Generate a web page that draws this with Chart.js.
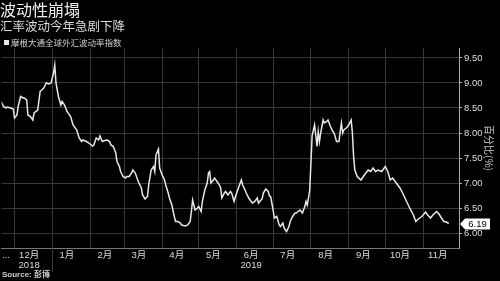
<!DOCTYPE html>
<html><head><meta charset="utf-8">
<script src="https://cdn.jsdelivr.net/npm/chart.js@4.4.1/dist/chart.umd.min.js"></script>
<style>html,body{margin:0;padding:0;background:#000;overflow:hidden}</style>
</head><body>
<canvas id="c" width="500" height="281"></canvas>
<script>
// ---- data ----
const chartTitle = '波动性崩塌';
const chartSubtitle = '汇率波动今年急剧下降';
const seriesName = '摩根大通全球外汇波动率指数';
const yAxisTitle = '百分比(%)';
const sourceText = 'Source: 彭博';
// days since 2018-11-19
const dayOffsets = [
  1,3,5,6,9,11,12,14,15,17,
  19,20,22,23,25,27,28,31,33,36,
  38,40,42,44,45,46,48,50,51,53,
  55,58,60,63,65,67,68,71,73,76,
  77,79,81,82,84,86,88,90,91,93,
  95,96,98,99,101,103,104,106,108,109,
  111,113,114,116,117,119,121,122,124,126,
  127,128,130,131,133,135,136,138,139,141,
  143,144,146,148,149,152,154,156,157,158,
  160,162,163,165,166,168,170,171,172,173,
  175,176,178,180,181,182,184,185,187,189,
  190,192,193,195,197,198,199,201,202,204,
  206,207,209,211,212,213,215,216,218,220,
  221,222,224,225,227,229,230,232,233,235,
  237,238,240,242,243,245,246,247,248,250,
  251,252,254,255,256,258,260,261,262,263,
  265,266,268,269,271,273,274,276,278,279,
  280,281,282,284,286,288,289,290,291,293,
  296,298,300,302,304,306,308,310,313,316,
  318,320,322,325,328,331,334,336,339,341,
  343,346,349,350,353,355,358,360,362,364,
  366,368
];
const volValues = [
  8.63,8.53,8.50,8.52,8.50,8.48,8.30,8.36,8.53,8.73,
  8.70,8.70,8.66,8.36,8.33,8.26,8.40,8.46,8.83,8.90,
  9.00,8.98,9.00,9.20,9.36,9.00,8.73,8.56,8.63,8.56,
  8.43,8.33,8.16,8.06,7.90,7.83,7.86,7.83,7.80,7.74,
  7.76,7.90,7.86,7.94,7.83,7.85,7.86,7.83,7.76,7.73,
  7.60,7.43,7.33,7.23,7.13,7.10,7.13,7.13,7.20,7.26,
  7.20,7.06,7.00,6.90,6.76,6.68,6.73,6.96,7.26,7.33,
  7.23,7.56,7.68,7.30,7.16,7.06,6.96,6.80,6.70,6.56,
  6.33,6.23,6.23,6.20,6.16,6.14,6.16,6.23,6.43,6.66,
  6.46,6.50,6.53,6.43,6.63,6.86,7.00,7.20,7.23,7.00,
  7.06,7.10,7.03,6.96,6.90,6.70,6.80,6.83,6.76,6.83,
  6.80,6.63,6.72,6.86,7.00,7.06,6.96,6.86,6.80,6.70,
  6.63,6.60,6.63,6.70,6.60,6.63,6.68,6.80,6.88,6.83,
  6.74,6.73,6.46,6.30,6.33,6.16,6.13,6.20,6.10,6.03,
  6.13,6.23,6.33,6.40,6.40,6.44,6.46,6.43,6.40,6.53,
  6.63,6.56,6.85,7.40,7.95,8.16,7.73,8.03,7.83,8.00,
  8.26,8.20,8.23,8.26,8.13,8.03,8.00,7.83,7.83,8.03,
  8.20,8.00,8.06,8.10,8.16,8.26,8.00,7.53,7.26,7.13,
  7.06,7.13,7.20,7.26,7.23,7.30,7.23,7.26,7.23,7.33,
  7.23,7.06,7.10,7.00,6.90,6.76,6.60,6.50,6.36,6.23,
  6.28,6.33,6.42,6.38,6.30,6.36,6.43,6.38,6.30,6.23,
  6.22,6.19
];
// month boundaries (days since 2018-11-19): Dec 1 ... Nov 1
const monthStartDays = [12,43,74,102,133,163,194,224,255,286,316,347];
const yearStartDay = 43;
const monthLabels = ['...', ['12月','2018'], '1月','2月','3月','4月','5月',['6月','2019'],'7月','8月','9月','10月','11月'];
const yTickValues = [6.0,6.5,7.0,7.5,8.0,8.5,9.0,9.5];

// ---- derived ----
const labelDays = [5].concat(monthStartDays.map(d => d + 12));
const points = dayOffsets.map((d, i) => ({x: d, y: volValues[i]}));
const X_MIN = 1.4, X_MAX = 376.4;

const extras = {
  id: 'extras',
  afterDraw(chart) {
    const {ctx, chartArea: a, scales} = chart;
    const x = scales.x, y = scales.y;
    ctx.save();
    // legend item
    ctx.fillStyle = '#e6e6e6';
    ctx.fillRect(4, 40, 5, 5);
    ctx.font = '8.5px "Noto Sans CJK SC"';
    ctx.textBaseline = 'middle';
    ctx.textAlign = 'left';
    ctx.fillStyle = '#cfcfcf';
    ctx.fillText(chart.data.datasets[0].label, 11, 42.5);
    // year separator tick
    const jx = Math.round(x.getPixelForValue(yearStartDay)) + 0.5;
    ctx.strokeStyle = '#3a3a3a';
    ctx.lineWidth = 1;
    ctx.beginPath(); ctx.moveTo(jx, a.bottom); ctx.lineTo(jx, 272); ctx.stroke();
    // source
    ctx.font = 'bold 8px "Liberation Sans", "Noto Sans CJK SC"';
    ctx.fillStyle = '#cfcfcf';
    ctx.textBaseline = 'middle';
    ctx.fillText(sourceText, 2, 275);
    // last value tag
    const last = volValues[volValues.length - 1];
    const ly = Math.round(y.getPixelForValue(last));
    const x0 = a.right + 1;
    ctx.fillStyle = '#ffffff';
    ctx.beginPath();
    ctx.moveTo(x0, ly);
    ctx.lineTo(x0 + 5, ly - 5.5);
    ctx.lineTo(x0 + 30, ly - 5.5);
    ctx.lineTo(x0 + 30, ly + 5.5);
    ctx.lineTo(x0 + 5, ly + 5.5);
    ctx.closePath();
    ctx.fill();
    ctx.fillStyle = '#000000';
    ctx.font = '9.5px "Liberation Sans"';
    ctx.textAlign = 'center';
    ctx.fillText(last.toFixed(2), x0 + 17.5, ly + 0.5);
    ctx.restore();
  }
};

new Chart(document.getElementById('c'), {
  type: 'line',
  data: {
    datasets: [{
      label: seriesName,
      data: points,
      borderColor: '#e8e8e8',
      borderWidth: 1.5,
      pointRadius: 0,
      tension: 0,
      fill: false
    }]
  },
  options: {
    responsive: false,
    animation: false,
    devicePixelRatio: 1,
    layout: {padding: {left: 0, right: 0, top: 0, bottom: 9}},
    plugins: {
      legend: {display: false},
      tooltip: {enabled: false},
      title: {
        display: true, text: chartTitle, align: 'start', color: '#eeeeee',
        font: {family: '"Noto Sans CJK SC"', size: 16, weight: 'normal', lineHeight: 1},
        padding: {top: 2, bottom: 0}
      },
      subtitle: {
        display: true, text: chartSubtitle, align: 'start', color: '#dddddd',
        font: {family: '"Noto Sans CJK SC"', size: 12.5, weight: 'normal', lineHeight: 1},
        padding: {top: 2, bottom: 15.5}
      }
    },
    scales: {
      x: {
        type: 'linear', position: 'bottom', min: X_MIN, max: X_MAX,
        afterBuildTicks: s => { s.ticks = monthStartDays.map(v => ({value: v})); },
        ticks: {display: false},
        grid: {color: '#383838', lineWidth: 1, drawTicks: false},
        border: {display: true, color: '#777777'}
      },
      xl: {
        type: 'linear', position: 'bottom', min: X_MIN, max: X_MAX,
        afterBuildTicks: s => { s.ticks = labelDays.map(v => ({value: v})); },
        afterFit: s => { s.height = 24; },
        grid: {display: false, drawTicks: false},
        border: {display: false},
        ticks: {
          autoSkip: false, maxRotation: 0, minRotation: 0, padding: 2,
          color: '#dddddd',
          font: {family: '"Liberation Sans", "Noto Sans CJK SC"', size: 9.5, lineHeight: 1.1},
          callback: (v, i) => monthLabels[i]
        }
      },
      y: {
        position: 'right', min: 5.7, max: 9.7,
        afterBuildTicks: s => { s.ticks = yTickValues.map(v => ({value: v})); },
        afterFit: s => { s.width = 41; },
        grid: {color: '#383838', tickColor: '#aaaaaa', tickLength: 3},
        border: {display: true, color: '#aaaaaa'},
        ticks: {
          color: '#dddddd', padding: 2,
          font: {family: '"Liberation Sans"', size: 9.5},
          callback: v => Number(v).toFixed(2)
        },
        title: {
          display: true, text: yAxisTitle, color: '#cccccc',
          font: {family: '"Noto Sans CJK SC"', size: 10, lineHeight: 1.2},
          padding: {top: 5, bottom: 0}
        }
      }
    }
  },
  plugins: [extras]
});
</script>
</body></html>
